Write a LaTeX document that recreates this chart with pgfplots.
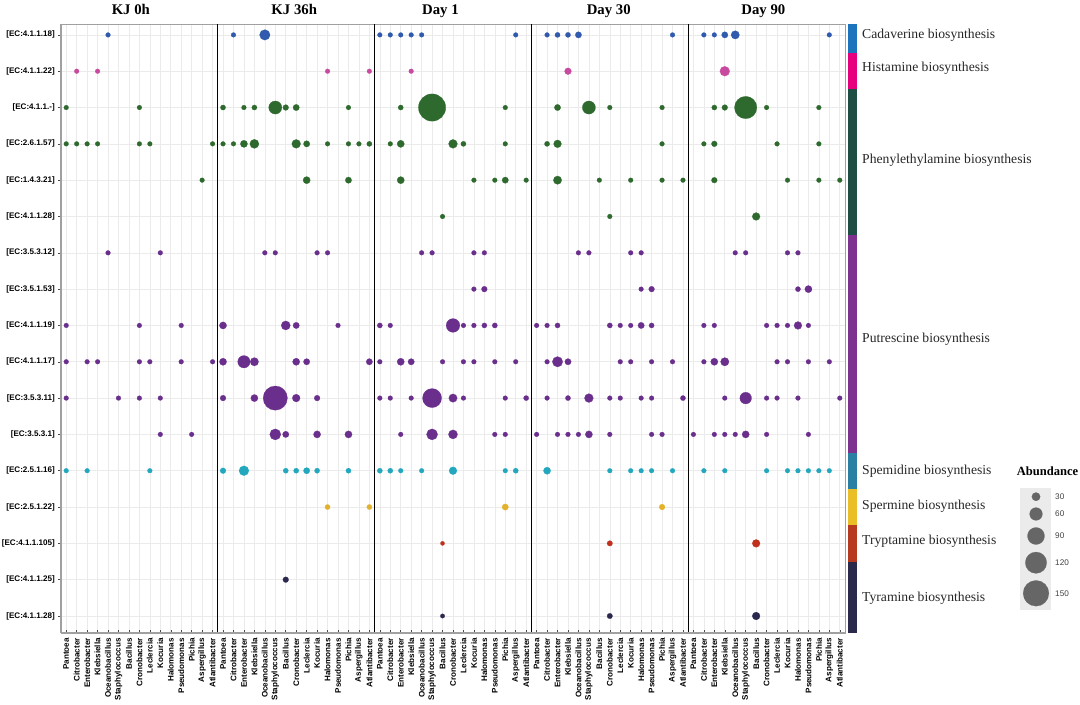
\documentclass[border=0pt]{standalone}
\usepackage{pgfplots}
\pgfplotsset{compat=1.18}
\usepackage{pgfplotstable}
\usepackage{fontspec}
\setmainfont{Liberation Serif}
\setsansfont{Liberation Sans}

\definecolor{cadd}{HTML}{2F5AAE}\definecolor{cadb}{HTML}{1C75BC}
\definecolor{hisd}{HTML}{C84A9E}\definecolor{hisb}{HTML}{E6007E}
\definecolor{phed}{HTML}{2E6A2E}\definecolor{pheb}{HTML}{1F4F44}
\definecolor{putd}{HTML}{6A2E8C}\definecolor{putb}{HTML}{7D3290}
\definecolor{sped}{HTML}{22A7BF}\definecolor{speb}{HTML}{2980A3}
\definecolor{spmd}{HTML}{E3B12A}\definecolor{spmb}{HTML}{E9BE26}
\definecolor{tryd}{HTML}{C12F1D}\definecolor{tryb}{HTML}{B83A1E}
\definecolor{tyrd}{HTML}{2B2850}\definecolor{tyrb}{HTML}{2B2A4B}
\definecolor{axgray}{HTML}{A0A0A0}
\definecolor{gridgray}{HTML}{EBEBEB}
\definecolor{legbg}{HTML}{EBEBEB}
\definecolor{leggray}{HTML}{666666}

% p = panel (0 KJ 0h ... 4 Day 90), g = genus index, y = row, v = abundance
\pgfplotstableread{
p g y v
0 4 17 5
1 1 17 5
1 4 17 45
2 0 17 5
2 1 17 5
2 2 17 5
2 3 17 5
2 4 17 5
2 13 17 5
3 1 17 5
3 2 17 8
3 3 17 8
3 4 17 16
3 13 17 5
4 1 17 5
4 2 17 5
4 3 17 16
4 4 17 30
4 13 17 5
}\tcad

\pgfplotstableread{
p g y v
0 1 16 5
0 3 16 5
1 10 16 5
1 14 16 5
2 3 16 5
3 3 16 19
4 3 16 40
}\this

\pgfplotstableread{
p g y v
0 0 15 5
0 7 15 5
1 0 15 8
1 2 15 5
1 3 15 8
1 5 15 63
1 6 15 12
1 7 15 16
1 12 15 5
2 2 15 8
2 5 15 161
2 12 15 5
3 2 15 16
3 5 15 63
3 7 15 5
3 12 15 5
4 2 15 8
4 3 15 12
4 5 15 127
4 7 15 5
4 12 15 5
0 0 14 5
0 1 14 5
0 2 14 5
0 3 14 5
0 7 14 5
0 8 14 5
0 14 14 5
1 0 14 5
1 1 14 5
1 2 14 22
1 3 14 35
1 7 14 33
1 8 14 16
1 10 14 5
1 12 14 5
1 13 14 5
1 14 14 8
2 1 14 5
2 2 14 22
2 7 14 33
2 8 14 8
2 12 14 5
3 1 14 8
3 2 14 26
3 12 14 5
4 1 14 5
4 2 14 12
4 8 14 5
4 12 14 5
0 13 13 5
1 8 13 22
1 12 13 16
2 2 13 22
2 9 13 5
2 11 13 5
2 12 13 16
2 14 13 5
3 2 13 30
3 6 13 5
3 9 13 5
3 12 13 5
3 14 13 5
4 2 13 12
4 9 13 5
4 12 13 5
4 14 13 5
2 6 12 5
3 7 12 5
4 6 12 26
}\tphe

\pgfplotstableread{
p g y v
0 4 11 5
0 9 11 5
1 4 11 5
1 5 11 5
1 9 11 5
1 10 11 5
2 4 11 5
2 5 11 5
2 9 11 5
2 10 11 5
3 4 11 5
3 5 11 5
3 9 11 5
3 10 11 5
4 4 11 5
4 5 11 5
4 9 11 5
4 10 11 5
2 9 10 5
2 10 10 12
3 10 10 5
3 11 10 12
4 10 10 8
4 11 10 22
0 0 9 5
0 7 9 5
0 11 9 5
1 0 9 22
1 6 9 35
1 7 9 16
1 11 9 5
2 0 9 8
2 1 9 5
2 7 9 67
2 8 9 5
2 9 9 5
2 10 9 8
2 11 9 8
3 0 9 5
3 1 9 5
3 2 9 8
3 7 9 8
3 8 9 5
3 9 9 5
3 10 9 16
3 11 9 8
4 1 9 5
4 2 9 5
4 7 9 5
4 8 9 5
4 9 9 5
4 10 9 26
4 11 9 5
0 0 8 5
0 2 8 5
0 3 8 5
0 7 8 5
0 8 8 5
0 11 8 5
0 14 8 5
1 0 8 22
1 2 8 58
1 3 8 30
1 7 8 22
1 8 8 16
1 14 8 16
2 0 8 5
2 2 8 22
2 3 8 16
2 6 8 5
2 8 8 5
2 9 8 5
2 11 8 5
2 13 8 5
3 1 8 5
3 2 8 44
3 3 8 16
3 8 8 5
3 9 8 5
3 11 8 5
3 13 8 5
4 1 8 5
4 2 8 22
4 3 8 30
4 8 8 5
4 9 8 5
4 11 8 5
4 13 8 5
0 0 7 5
0 5 7 5
0 7 7 5
0 9 7 5
1 0 7 12
1 3 7 22
1 5 7 140
1 7 7 26
1 9 7 12
2 0 7 5
2 1 7 5
2 3 7 5
2 5 7 104
2 7 7 30
2 8 7 5
2 12 7 5
2 14 7 8
3 1 7 5
3 3 7 8
3 5 7 33
3 7 7 5
3 8 7 5
3 10 7 5
3 11 7 5
3 14 7 8
4 3 7 5
4 5 7 53
4 7 7 5
4 8 7 5
4 10 7 5
4 14 7 5
0 9 6 5
0 12 6 5
1 5 6 49
1 6 6 16
1 9 6 22
1 12 6 22
2 2 6 5
2 5 6 49
2 7 6 35
2 11 6 5
2 12 6 5
3 0 6 5
3 2 6 5
3 3 6 5
3 4 6 5
3 5 6 22
3 7 6 5
3 11 6 5
3 12 6 5
4 0 6 5
4 2 6 5
4 3 6 5
4 4 6 5
4 5 6 22
4 7 6 5
4 11 6 5
}\tput

\pgfplotstableread{
p g y v
0 0 5 5
0 2 5 5
0 8 5 5
1 0 5 12
1 2 5 40
1 6 5 8
1 7 5 8
1 8 5 16
1 9 5 8
1 12 5 8
2 0 5 8
2 1 5 8
2 2 5 5
2 4 5 5
2 7 5 26
2 12 5 5
2 13 5 8
3 1 5 22
3 7 5 5
3 9 5 5
3 10 5 5
3 11 5 5
3 13 5 5
4 1 5 5
4 3 5 5
4 7 5 5
4 9 5 5
4 10 5 5
4 11 5 5
4 12 5 5
4 13 5 5
}\tspe

\pgfplotstableread{
p g y v
1 10 4 8
1 14 4 8
2 12 4 16
3 12 4 12
}\tspm

\pgfplotstableread{
p g y v
2 6 3 1
3 7 3 10
4 6 3 26
}\ttry

\pgfplotstableread{
p g y v
1 6 2 12
2 6 1 3
3 7 1 10
4 6 1 26
}\ttyr

\pgfplotstableread{
x y v
16 113.3 30
16 96 60
16 74 90
16 47.3 120
16 16.7 150
}\tleg

\pgfplotsset{
  dots/.style={scatter, only marks, mark=*, color=#1,
    mark options={draw=#1, fill=#1, line width=0.2bp},
    scatter/use mapped color={draw=#1, fill=#1},
    visualization depends on={\thisrow{v} \as \av},
    scatter/@pre marker code/.append style={/tikz/mark size=2.03+0.0725*\av}},
}

\newcommand{\tickfont}{\sffamily\bfseries\fontsize{8.1}{9}\selectfont}

\begin{document}
\begin{tikzpicture}
\useasboundingbox (0,0) rectangle (1080bp,705bp);
\begin{axis}[
  at={(61bp,72bp)}, anchor=south west,
  scale only axis, width=784bp, height=609bp,
  xmin=-0.5, xmax=74.5, ymin=0.532, ymax=17.30,
  clip=false,
  axis line style={draw=axgray, line width=0.6bp},
  xtick={0,...,74}, ytick={1,...,17},
  xticklabels={Pantoea,Citrobacter,Enterobacter,Klebsiella,Oceanobacillus,Staphylococcus,Bacillus,Cronobacter,Leclercia,Kocuria,Halomonas,Pseudomonas,Pichia,Aspergillus,Atlantibacter,
  Pantoea,Citrobacter,Enterobacter,Klebsiella,Oceanobacillus,Staphylococcus,Bacillus,Cronobacter,Leclercia,Kocuria,Halomonas,Pseudomonas,Pichia,Aspergillus,Atlantibacter,
  Pantoea,Citrobacter,Enterobacter,Klebsiella,Oceanobacillus,Staphylococcus,Bacillus,Cronobacter,Leclercia,Kocuria,Halomonas,Pseudomonas,Pichia,Aspergillus,Atlantibacter,
  Pantoea,Citrobacter,Enterobacter,Klebsiella,Oceanobacillus,Staphylococcus,Bacillus,Cronobacter,Leclercia,Kocuria,Halomonas,Pseudomonas,Pichia,Aspergillus,Atlantibacter,
  Pantoea,Citrobacter,Enterobacter,Klebsiella,Oceanobacillus,Staphylococcus,Bacillus,Cronobacter,Leclercia,Kocuria,Halomonas,Pseudomonas,Pichia,Aspergillus,Atlantibacter},
  yticklabels={{[EC:4.1.1.28]},{[EC:4.1.1.25]},{[EC:4.1.1.105]},{[EC:2.5.1.22]},{[EC:2.5.1.16]},{[EC:3.5.3.1]},{[EC:3.5.3.11]},{[EC:4.1.1.17]},{[EC:4.1.1.19]},{[EC:3.5.1.53]},{[EC:3.5.3.12]},{[EC:4.1.1.28]},{[EC:1.4.3.21]},{[EC:2.6.1.57]},{[EC:4.1.1.-]},{[EC:4.1.1.22]},{[EC:4.1.1.18]}},
  grid=major, major grid style={draw=gridgray, line width=0.6bp},
  tick align=inside, xtick pos=left, ytick pos=left,
  major tick length=3bp,
  xtick style={draw=black!70, line width=0.5bp},
  ytick style={draw=black!70, line width=0.5bp, xshift=-3bp},
  x tick label style={font=\tickfont, rotate=90, anchor=east, inner sep=0pt},
  xticklabel shift=5bp,
  y tick label style={font=\tickfont, anchor=east, inner sep=0pt},
  yticklabel shift=6bp,
]
\addplot[dots=cadd] table[x expr=\thisrow{p}*15+\thisrow{g}, y=y] {\tcad};
\addplot[dots=hisd] table[x expr=\thisrow{p}*15+\thisrow{g}, y=y] {\this};
\addplot[dots=phed] table[x expr=\thisrow{p}*15+\thisrow{g}, y=y] {\tphe};
\addplot[dots=putd] table[x expr=\thisrow{p}*15+\thisrow{g}, y=y] {\tput};
\addplot[dots=sped] table[x expr=\thisrow{p}*15+\thisrow{g}, y=y] {\tspe};
\addplot[dots=spmd] table[x expr=\thisrow{p}*15+\thisrow{g}, y=y] {\tspm};
\addplot[dots=tryd] table[x expr=\thisrow{p}*15+\thisrow{g}, y=y] {\ttry};
\addplot[dots=tyrd] table[x expr=\thisrow{p}*15+\thisrow{g}, y=y] {\ttyr};
\addplot[black, line width=1.2bp] coordinates {(14.5,0.532) (14.5,17.30)};
\addplot[black, line width=1.2bp] coordinates {(29.5,0.532) (29.5,17.30)};
\addplot[black, line width=1.2bp] coordinates {(44.5,0.532) (44.5,17.30)};
\addplot[black, line width=1.2bp] coordinates {(59.5,0.532) (59.5,17.30)};
\draw[axgray, line width=1.3bp] (rel axis cs:0,1) -- (rel axis cs:0,0);
\draw[axgray, line width=1.8bp] (rel axis cs:0,0) -- (rel axis cs:1,0);
\begin{scope}[font=\bfseries\fontsize{14.8}{16}\selectfont]
\node[anchor=base, yshift=9bp] at (axis cs:6.18,17.30) {KJ 0h};
\node[anchor=base, yshift=9bp] at (axis cs:21.81,17.30) {KJ 36h};
\node[anchor=base, yshift=9bp] at (axis cs:35.8,17.30) {Day 1};
\node[anchor=base, yshift=9bp] at (axis cs:51.9,17.30) {Day 30};
\node[anchor=base, yshift=9bp] at (axis cs:66.69,17.30) {Day 90};
\end{scope}
\end{axis}

\begin{axis}[
  at={(848bp,72bp)}, anchor=south west,
  scale only axis, width=9bp, height=609bp,
  xmin=0, xmax=1, ymin=0.532, ymax=17.30,
  hide axis, clip=false,
]
\addplot[fill=cadb, draw=none] coordinates {(0,16.5) (1,16.5) (1,17.30) (0,17.30)} -- cycle;
\addplot[fill=hisb, draw=none] coordinates {(0,15.5) (1,15.5) (1,16.5) (0,16.5)} -- cycle;
\addplot[fill=pheb, draw=none] coordinates {(0,11.5) (1,11.5) (1,15.5) (0,15.5)} -- cycle;
\addplot[fill=putb, draw=none] coordinates {(0,5.5) (1,5.5) (1,11.5) (0,11.5)} -- cycle;
\addplot[fill=speb, draw=none] coordinates {(0,4.5) (1,4.5) (1,5.5) (0,5.5)} -- cycle;
\addplot[fill=spmb, draw=none] coordinates {(0,3.5) (1,3.5) (1,4.5) (0,4.5)} -- cycle;
\addplot[fill=tryb, draw=none] coordinates {(0,2.5) (1,2.5) (1,3.5) (0,3.5)} -- cycle;
\addplot[fill=tyrb, draw=none] coordinates {(0,0.532) (1,0.532) (1,2.5) (0,2.5)} -- cycle;
\begin{scope}[font=\fontsize{13.7}{15}\selectfont, text=black!85]
\node[anchor=west, inner sep=0pt] at (axis cs:1.556,17.0) {Cadaverine biosynthesis};
\node[anchor=west, inner sep=0pt] at (axis cs:1.556,16.08) {Histamine biosynthesis};
\node[anchor=west, inner sep=0pt] at (axis cs:1.556,13.56) {Phenylethylamine biosynthesis};
\node[anchor=west, inner sep=0pt] at (axis cs:1.556,8.63) {Putrescine biosynthesis};
\node[anchor=west, inner sep=0pt] at (axis cs:1.556,4.99) {Spemidine biosynthesis};
\node[anchor=west, inner sep=0pt] at (axis cs:1.556,4.03) {Spermine biosynthesis};
\node[anchor=west, inner sep=0pt] at (axis cs:1.556,3.045) {Tryptamine biosynthesis};
\node[anchor=west, inner sep=0pt] at (axis cs:1.556,1.50) {Tyramine biosynthesis};
\end{scope}
\end{axis}

\begin{axis}[
  at={(1020bp,95bp)}, anchor=south west,
  scale only axis, width=31bp, height=122bp,
  xmin=0, xmax=31, ymin=0, ymax=122,
  axis line style={draw=none}, xtick=\empty, ytick=\empty,
  axis background/.style={fill=legbg},
  clip=false,
]
\addplot[dots=leggray] table[x=x, y=y] {\tleg};
\begin{scope}[font=\sffamily\fontsize{8.2}{9}\selectfont, text=black!75]
\node[anchor=west, inner sep=0pt] at (axis cs:35,113.3) {30};
\node[anchor=west, inner sep=0pt] at (axis cs:35,96) {60};
\node[anchor=west, inner sep=0pt] at (axis cs:35,74) {90};
\node[anchor=west, inner sep=0pt] at (axis cs:35,47.3) {120};
\node[anchor=west, inner sep=0pt] at (axis cs:35,16.7) {150};
\end{scope}
\node[font=\bfseries\fontsize{12.6}{14}\selectfont, inner sep=0pt] at (axis cs:27.5,138.3) {Abundance};
\end{axis}
\end{tikzpicture}
\end{document}
